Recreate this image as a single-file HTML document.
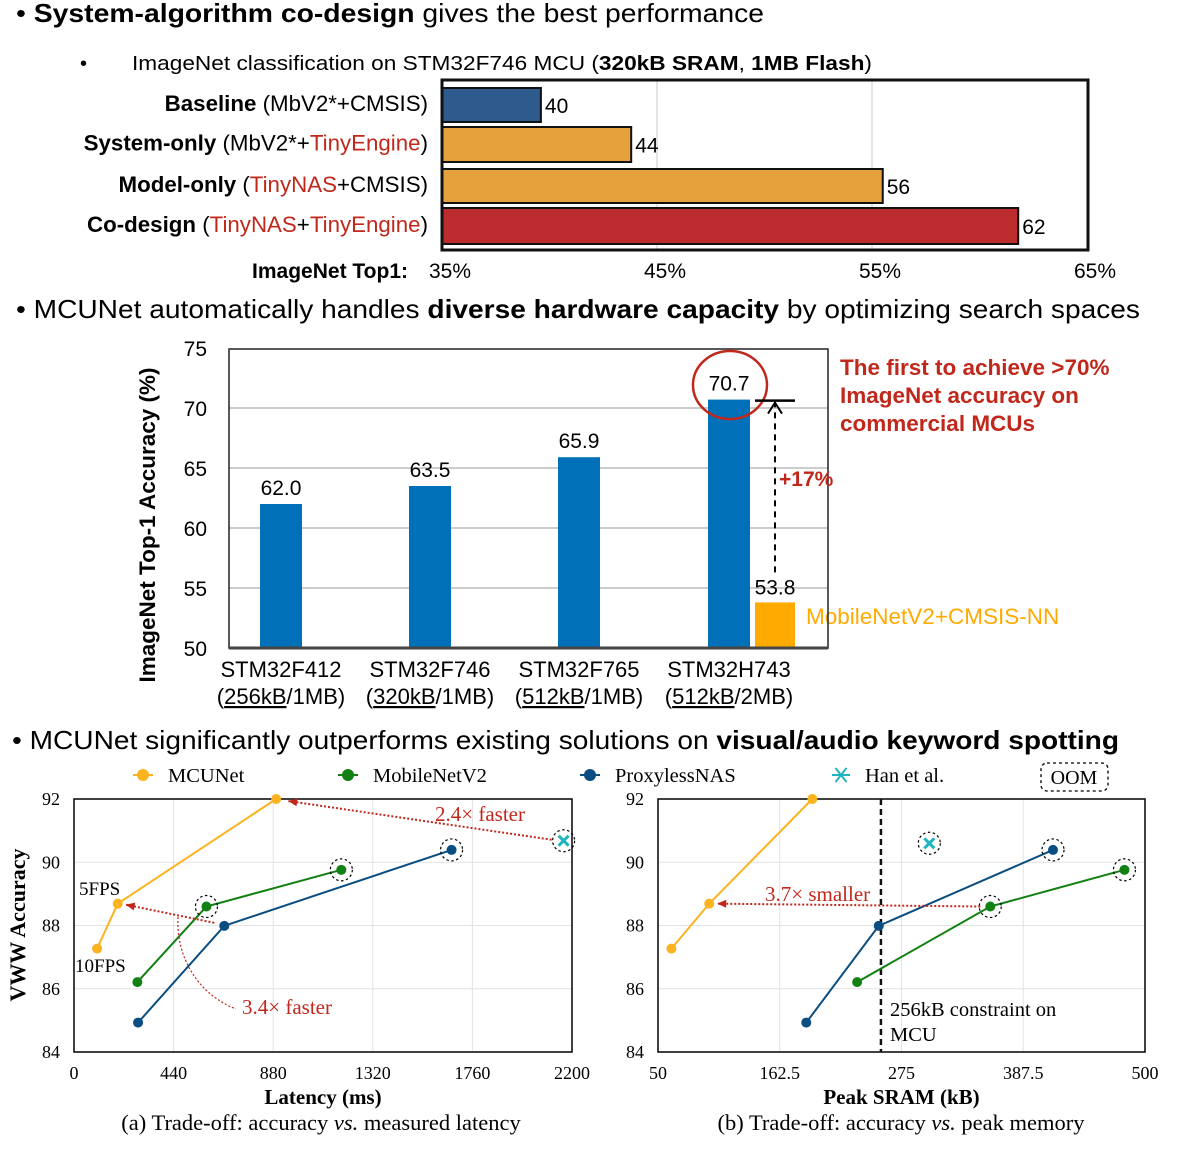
<!DOCTYPE html>
<html><head><meta charset="utf-8">
<style>
html,body{margin:0;padding:0;background:#fff;}
svg{display:block;}
.s{font-family:"Liberation Sans",Arial,sans-serif;}
.t{font-family:"Liberation Serif","Times New Roman",serif;}
</style></head>
<body>
<svg id="root" width="1185" height="1156" viewBox="0 0 1185 1156" xmlns="http://www.w3.org/2000/svg">
<text class="s" x="16" y="22" font-size="26" textLength="748" lengthAdjust="spacingAndGlyphs">• <tspan font-weight="bold">System-algorithm co-design</tspan> gives the best performance</text>
<text class="s" x="80" y="70" font-size="20">•</text>
<text class="s" x="132" y="70" font-size="20" textLength="740" lengthAdjust="spacingAndGlyphs">ImageNet classification on STM32F746 MCU (<tspan font-weight="bold">320kB SRAM</tspan>, <tspan font-weight="bold">1MB Flash</tspan>)</text>
<text class="s" x="16" y="318" font-size="26" textLength="1124" lengthAdjust="spacingAndGlyphs">• MCUNet automatically handles <tspan font-weight="bold">diverse hardware capacity</tspan> by optimizing search spaces</text>
<text class="s" x="12" y="749" font-size="26" textLength="1107" lengthAdjust="spacingAndGlyphs">• MCUNet significantly outperforms existing solutions on <tspan font-weight="bold">visual/audio keyword spotting</tspan></text>
<g id="top"></g>
<g id="mid"></g>
<g id="bot"></g>
</svg>
<script>
// ---------- top chart data ----------
const topCats = ["Baseline","System-only","Model-only","Co-design"];
const topValues = [39.6, 43.8, 55.5, 61.8];
const topLabels = ["40","44","56","62"];
const topTicks = [35,45,55,65];
// ---------- middle chart data ----------
const midCats = ["STM32F412","STM32F746","STM32F765","STM32H743"];
const midMem = ["256kB","320kB","512kB","512kB"];
const midFlash = ["/1MB)","/1MB)","/1MB)","/2MB)"];
const midValues = [62.0, 63.5, 65.9, 70.7];
const midBaseline = [53.8];
const midTicks = [50,55,60,65,70,75];
// ---------- bottom charts data ----------
const mcuLat = [102, 193, 893];
const mcuSram = [62.4, 97.3, 192.6];
const mcuAcc = [87.27, 88.69, 92.0];
const mbLat = [280, 585, 1181];
const mbSram = [234, 357, 481];
const mbAcc = [86.21, 88.6, 89.76];
const pxLat = [283, 664, 1668];
const pxSram = [187, 254, 415];
const pxAcc = [84.93, 87.99, 90.39];
const hanLat = [2163];
const hanSram = [300.7];
const hanAcc = [90.68, 90.6];
const latTicks = [0,440,880,1320,1760,2200];
const sramTicks = [50,162.5,275,387.5,500];
const accTicks = [84,86,88,90,92];

const NS="http://www.w3.org/2000/svg";
function mk(parent,tag,attrs,text){const e=document.createElementNS(NS,tag);for(const k in attrs)e.setAttribute(k,attrs[k]);if(text!==undefined)e.textContent=text;parent.appendChild(e);return e;}

// ===== TOP =====
(function(){
const g=document.getElementById('top');
const x=v=>442+(v-35)*21.5;
const L=442,R=1088,T=80,B=250;
topTicks.slice(1,3).forEach(t=>{const l=mk(g,'line',{x1:x(t),x2:x(t),y1:T,y2:B,stroke:'#c8c8c8','stroke-width':1});

});
const rows=[88,127,169,208], hts=[34,35,34,36];
const fills=['#2f5a8e','#e5a23c','#e5a23c','#bc2c2f'];
const lab=[
 [['Baseline',1,'#000'],[' (MbV2*+CMSIS)',0,'#000']],
 [['System-only',1,'#000'],[' (MbV2*+',0,'#000'],['TinyEngine',0,'#c0281c'],[')',0,'#000']],
 [['Model-only',1,'#000'],[' (',0,'#000'],['TinyNAS',0,'#c0281c'],['+CMSIS)',0,'#000']],
 [['Co-design',1,'#000'],[' (',0,'#000'],['TinyNAS',0,'#c0281c'],['+',0,'#000'],['TinyEngine',0,'#c0281c'],[')',0,'#000']]];
topValues.forEach((v,i)=>{
 const r=mk(g,'rect',{x:L,y:rows[i],width:x(v)-L,height:hts[i],fill:fills[i],stroke:'#111','stroke-width':2});
 
 
 const tv=mk(g,'text',{x:x(v)+4,y:rows[i]+hts[i]/2+8,'font-size':21,class:'s'},topLabels[i]);
 
 
 const tl=mk(g,'text',{x:428,y:rows[i]+hts[i]/2+6,'font-size':22.3,class:'s','text-anchor':'end'});
 
 
 lab[i].forEach(p=>mk(tl,'tspan',{'font-weight':p[1]?'bold':'normal',fill:p[2]},p[0]));
});
const box=mk(g,'rect',{x:L,y:T,width:R-L,height:B-T,fill:'none',stroke:'#111','stroke-width':3});


const at=mk(g,'text',{x:408,y:278,'font-size':21,'font-weight':'bold',class:'s','text-anchor':'end'},'ImageNet Top1:');


topTicks.forEach(t=>{const e=mk(g,'text',{x:x(t)+8,y:278,'font-size':21,class:'s','text-anchor':'middle'},t+'%');

});
})();

// ===== MIDDLE =====
(function(){
const g=document.getElementById('mid');
const L=229,R=828,T=349,B=648;
const y=v=>B-(v-50)*12;
const cx=[281,430,579,729];
midTicks.forEach(t=>{
 if(t>50&&t<75){const l=mk(g,'line',{x1:L,x2:R,y1:y(t),y2:y(t),stroke:'#cccccc','stroke-width':2});
 
 }
 const e=mk(g,'text',{x:207,y:y(t)+8,'font-size':21,class:'s','text-anchor':'end'},String(t));
 
 
});
midValues.forEach((v,i)=>{
 const r=mk(g,'rect',{x:cx[i]-21,y:y(v),width:42,height:B-y(v),fill:'#0070b8'});
 
 
 const t=mk(g,'text',{x:cx[i],y:y(v)-9,'font-size':21,class:'s','text-anchor':'middle'},v.toFixed(1));
 
 
 const c1=mk(g,'text',{x:cx[i],y:677,'font-size':22,class:'s','text-anchor':'middle'},midCats[i]);
 
 
 const c2=mk(g,'text',{x:cx[i],y:704,'font-size':22,class:'s','text-anchor':'middle'});
 
 
 mk(c2,'tspan',{},'(');mk(c2,'tspan',{'text-decoration':'underline'},midMem[i]);mk(c2,'tspan',{},midFlash[i]);
});
const ob=mk(g,'rect',{x:755,y:y(midBaseline[0]),width:40,height:B-y(midBaseline[0]),fill:'#ffaa00'});


const ot=mk(g,'text',{x:775,y:y(midBaseline[0])-8,'font-size':21,class:'s','text-anchor':'middle'},midBaseline[0].toFixed(1));


const on=mk(g,'text',{x:806,y:624,'font-size':22.5,class:'s',fill:'#ffaa00'},'MobileNetV2+CMSIS-NN');


const fr=mk(g,'path',{d:`M${L} ${T} H${R} V${B} H${L} Z`,fill:'none',stroke:'#222','stroke-width':1.5});


const bl=mk(g,'line',{x1:L,x2:R,y1:B,y2:B,stroke:'#444','stroke-width':3});


const ci=mk(g,'ellipse',{cx:730,cy:385,rx:37,ry:34,fill:'none',stroke:'#c0281c','stroke-width':2.5});


const hl=mk(g,'line',{x1:755,x2:795,y1:y(midValues[3])+1,y2:y(midValues[3])+1,stroke:'#000','stroke-width':2.5});


const ar=mk(g,'line',{x1:775,x2:775,y1:y(midBaseline[0])-30,y2:y(midValues[3])+4,stroke:'#000','stroke-width':2,'stroke-dasharray':'6,5'});


const ah=mk(g,'path',{d:`M768 ${y(midValues[3])+14} L775 ${y(midValues[3])+3} L782 ${y(midValues[3])+14}`,fill:'none',stroke:'#000','stroke-width':2});


const pt=mk(g,'text',{x:779,y:486,'font-size':21,'font-weight':'bold',class:'s',fill:'#c0281c'},'+17%');


['The first to achieve >70%','ImageNet accuracy on','commercial MCUs'].forEach((s,i)=>{
 const e=mk(g,'text',{x:840,y:375+i*28,'font-size':22.5,'font-weight':'bold',class:'s',fill:'#c0281c'},s);
 
 
});
const yt=mk(g,'text',{x:0,y:0,'font-size':22.5,'font-weight':'bold',class:'s','text-anchor':'middle',transform:'translate(155,525) rotate(-90)'},'ImageNet Top-1 Accuracy (%)');


})();

// ===== BOTTOM =====
(function(){
const g=document.getElementById('bot');
const C={mcu:'#fbb320',mb:'#138013',px:'#0a4d80',han:'#1fb5c0',red:'#c0281c'};
[[143,'MCUNet',C.mcu],[348,'MobileNetV2',C.mb],[590,'ProxylessNAS',C.px]].forEach(l=>{
 const ln=mk(g,'line',{x1:l[0]-10,x2:l[0]+10,y1:775,y2:775,stroke:l[2],'stroke-width':2});
 
 
 const c=mk(g,'circle',{cx:l[0],cy:775,r:6,fill:l[2]});
 
 
 const t=mk(g,'text',{x:l[0]+25,y:782,'font-size':20.5,class:'t'},l[1]);
 
 
});
const hm=mk(g,'path',{d:'M832 775 H850 M835.5 768 L846.5 782 M846.5 768 L835.5 782',stroke:C.han,'stroke-width':2});


const ht=mk(g,'text',{x:865,y:782,'font-size':20.5,class:'t'},'Han et al.');


const ob=mk(g,'rect',{x:1041,y:763,width:67,height:28,rx:6,fill:'none',stroke:'#000','stroke-width':1.3,'stroke-dasharray':'3,3'});


const otx=mk(g,'text',{x:1074,y:784,'font-size':20,class:'t','text-anchor':'middle'},'OOM');



function panel(name,L,R,xmin,xmax,ticks,tfmt,title,caption,capX,ylab){
 const T=799,B=1052;
 const x=v=>L+(v-xmin)/(xmax-xmin)*(R-L);
 const y=v=>B-(v-84)/8*(B-T);
 ticks.forEach(t=>{
  if(t>xmin&&t<xmax){const l=mk(g,'line',{x1:x(t),x2:x(t),y1:T,y2:B,stroke:'#e2e2e2','stroke-width':1});
  
  }
  const e=mk(g,'text',{x:x(t),y:B+27,'font-size':18,class:'t','text-anchor':'middle'},tfmt(t));
  
  
 });
 accTicks.forEach(t=>{
  if(t>84&&t<92){const l=mk(g,'line',{x1:L,x2:R,y1:y(t),y2:y(t),stroke:'#e2e2e2','stroke-width':1});
  
  }
  const e=mk(g,'text',{x:L-14,y:y(t)+6,'font-size':18,class:'t','text-anchor':'end'},String(t));
  
  
 });
 const fr=mk(g,'rect',{x:L,y:T,width:R-L,height:B-T,fill:'none',stroke:'#111','stroke-width':1.6});
 
 
 const xt=mk(g,'text',{x:(L+R)/2,y:1104,'font-size':21,'font-weight':'bold',class:'t','text-anchor':'middle'},title);
 
 
 const cp=mk(g,'text',{x:capX,y:1130,'font-size':22.5,class:'t','text-anchor':'middle'});
 
 
 mk(cp,'tspan',{},caption[0]);mk(cp,'tspan',{'font-style':'italic'},'vs.');mk(cp,'tspan',{},caption[1]);
 if(ylab){const yt=mk(g,'text',{x:0,y:0,'font-size':22,'font-weight':'bold',class:'t','text-anchor':'middle',transform:'translate(25,925) rotate(-90)'},'VWW Accuracy');
  
  }
 return {x,y};
}
function series(name,P,xs,ys,col,oom){
 const pl=mk(g,'polyline',{points:xs.map((v,i)=>P.x(v)+','+P.y(ys[i])).join(' '),fill:'none',stroke:col,'stroke-width':2});
 
 
 xs.forEach((v,i)=>{
  const c=mk(g,'circle',{cx:P.x(v),cy:P.y(ys[i]),r:5,fill:col});
  
  
  if(oom.includes(i)){const o=mk(g,'circle',{cx:P.x(v),cy:P.y(ys[i]),r:11,fill:'none',stroke:'#000','stroke-width':1.2,'stroke-dasharray':'2.5,2.5'});
   
   }
 });
}
function han(name,P,xv,yv){
 const o=mk(g,'circle',{cx:P.x(xv),cy:P.y(yv),r:11,fill:'none',stroke:'#000','stroke-width':1.2,'stroke-dasharray':'2.5,2.5'});
 
 
 const h=mk(g,'path',{d:`M${P.x(xv)-5} ${P.y(yv)-5} L${P.x(xv)+5} ${P.y(yv)+5} M${P.x(xv)+5} ${P.y(yv)-5} L${P.x(xv)-5} ${P.y(yv)+5}`,stroke:C.han,'stroke-width':3});
 
 
}
function arrow(name,x1,y1,x2,y2){
 const l=mk(g,'line',{x1,y1,x2,y2,stroke:C.red,'stroke-width':2,'stroke-dasharray':'2,2'});
 
 
 const a=Math.atan2(y2-y1,x2-x1),s=9;
 const p=`M${x2} ${y2} L${x2-s*Math.cos(a)+4*Math.sin(a)} ${y2-s*Math.sin(a)-4*Math.cos(a)} L${x2-s*Math.cos(a)-4*Math.sin(a)} ${y2-s*Math.sin(a)+4*Math.cos(a)} Z`;
 const h=mk(g,'path',{d:p,fill:C.red});
 
 
}
function lbl(name,x,y,s,col,fs){const t=mk(g,'text',{x,y,'font-size':fs||19,class:'t',fill:col||'#000'},s);
 
 }

const A=panel('latency',74,572,0,2200,latTicks,t=>String(t),'Latency (ms)',['(a) Trade-off: accuracy ',' measured latency'],321,true);
series('latency-mcunet',A,mcuLat,mcuAcc,C.mcu,[]);
series('latency-mobilenetv2',A,mbLat,mbAcc,C.mb,[1,2]);
series('latency-proxylessnas',A,pxLat,pxAcc,C.px,[2]);
han('latency',A,hanLat[0],hanAcc[0]);
arrow('arrow-2-4x',A.x(hanLat[0])-12,A.y(hanAcc[0])-1,A.x(mcuLat[2])+12,A.y(mcuAcc[2])+2);
arrow('arrow-3-4x',A.x(pxLat[1])-10,A.y(pxAcc[1])-3,A.x(mcuLat[1])+8,A.y(mcuAcc[1])+1);
const cv=mk(g,'path',{d:'M178 917 C176 960 200 995 236 1009',fill:'none',stroke:C.red,'stroke-width':1.2,'stroke-dasharray':'2,2'});


lbl('label-2-4x-faster',435,821,'2.4× faster',C.red,21);
lbl('label-3-4x-faster',242,1014,'3.4× faster',C.red,21);
lbl('label-5fps',79,895,'5FPS');
lbl('label-10fps',75,972,'10FPS');

const Bp=panel('sram',658,1145,50,500,sramTicks,t=>String(t),'Peak SRAM (kB)',['(b) Trade-off: accuracy ',' peak memory'],901,false);
const dl=mk(g,'line',{x1:Bp.x(256),x2:Bp.x(256),y1:799,y2:1052,stroke:'#111','stroke-width':2.5,'stroke-dasharray':'6,4'});


series('sram-mcunet',Bp,mcuSram,mcuAcc,C.mcu,[]);
series('sram-mobilenetv2',Bp,mbSram,mbAcc,C.mb,[1,2]);
series('sram-proxylessnas',Bp,pxSram,pxAcc,C.px,[2]);
han('sram',Bp,hanSram[0],hanAcc[1]);
arrow('arrow-3-7x',Bp.x(mbSram[1])-10,Bp.y(mbAcc[1]),Bp.x(mcuSram[1])+8,Bp.y(mcuAcc[1]));
lbl('label-3-7x-smaller',765,901,'3.7× smaller',C.red,21);
lbl('label-constraint',890,1016,'256kB constraint on',null,20.5);
lbl('label-constraint-mcu',890,1041,'MCU',null,20.5);
})();
</script>
</body></html>
